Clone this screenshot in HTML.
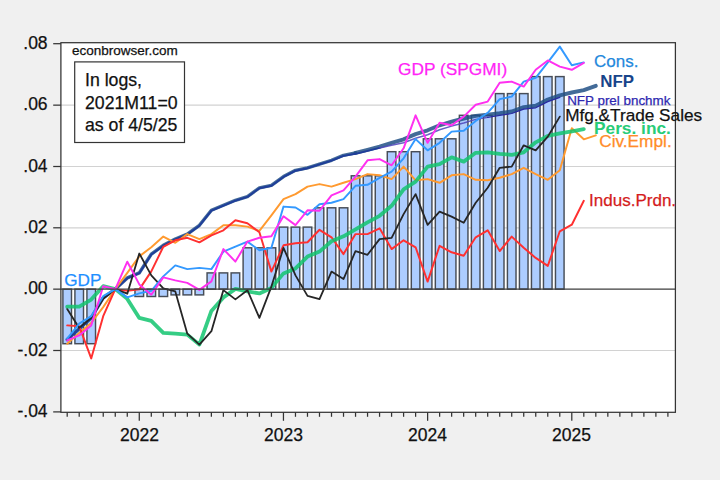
<!DOCTYPE html>
<html lang="en"><head><meta charset="utf-8"><title>Business cycle indicators</title>
<style>
html,body{margin:0;padding:0;}
body{width:720px;height:480px;background:#f0f0f0;position:relative;overflow:hidden;font-family:"Liberation Sans",sans-serif;color:#111;}
.t{position:absolute;white-space:nowrap;line-height:1;-webkit-text-stroke:0.25px currentColor;}
</style></head>
<body>
<svg width="720" height="480" viewBox="0 0 720 480" style="position:absolute;left:0;top:0">
<rect x="60.9" y="42.7" width="614.5" height="369.6" fill="#ffffff"/>
<line x1="60.9" x2="675.4" y1="105.15" y2="105.15" stroke="#d2d2d2" stroke-width="1.15"/>
<line x1="60.9" x2="675.4" y1="166.5" y2="166.5" stroke="#d2d2d2" stroke-width="1.15"/>
<line x1="60.9" x2="675.4" y1="227.8" y2="227.8" stroke="#d2d2d2" stroke-width="1.15"/>
<line x1="60.9" x2="675.4" y1="350.5" y2="350.5" stroke="#d2d2d2" stroke-width="1.15"/>
<rect x="62.90" y="289.1" width="8.6" height="54.6" fill="#adcdff" stroke="#474d57" stroke-width="1.45"/>
<rect x="74.91" y="289.1" width="8.6" height="54.6" fill="#adcdff" stroke="#474d57" stroke-width="1.45"/>
<rect x="86.93" y="289.1" width="8.6" height="54.6" fill="#adcdff" stroke="#474d57" stroke-width="1.45"/>
<rect x="134.98" y="289.1" width="8.6" height="7.4" fill="#adcdff" stroke="#474d57" stroke-width="1.45"/>
<rect x="147.00" y="289.1" width="8.6" height="7.4" fill="#adcdff" stroke="#474d57" stroke-width="1.45"/>
<rect x="159.01" y="289.1" width="8.6" height="7.4" fill="#adcdff" stroke="#474d57" stroke-width="1.45"/>
<rect x="171.03" y="289.1" width="8.6" height="5.8" fill="#adcdff" stroke="#474d57" stroke-width="1.45"/>
<rect x="183.04" y="289.1" width="8.6" height="5.8" fill="#adcdff" stroke="#474d57" stroke-width="1.45"/>
<rect x="195.05" y="289.1" width="8.6" height="5.8" fill="#adcdff" stroke="#474d57" stroke-width="1.45"/>
<rect x="207.07" y="272.9" width="8.6" height="16.2" fill="#adcdff" stroke="#474d57" stroke-width="1.45"/>
<rect x="219.08" y="272.9" width="8.6" height="16.2" fill="#adcdff" stroke="#474d57" stroke-width="1.45"/>
<rect x="231.10" y="272.9" width="8.6" height="16.2" fill="#adcdff" stroke="#474d57" stroke-width="1.45"/>
<rect x="243.11" y="247.8" width="8.6" height="41.3" fill="#adcdff" stroke="#474d57" stroke-width="1.45"/>
<rect x="255.12" y="247.8" width="8.6" height="41.3" fill="#adcdff" stroke="#474d57" stroke-width="1.45"/>
<rect x="267.14" y="247.8" width="8.6" height="41.3" fill="#adcdff" stroke="#474d57" stroke-width="1.45"/>
<rect x="279.15" y="227.1" width="8.6" height="62.0" fill="#adcdff" stroke="#474d57" stroke-width="1.45"/>
<rect x="291.17" y="227.1" width="8.6" height="62.0" fill="#adcdff" stroke="#474d57" stroke-width="1.45"/>
<rect x="303.18" y="227.1" width="8.6" height="62.0" fill="#adcdff" stroke="#474d57" stroke-width="1.45"/>
<rect x="315.19" y="207.8" width="8.6" height="81.3" fill="#adcdff" stroke="#474d57" stroke-width="1.45"/>
<rect x="327.21" y="207.8" width="8.6" height="81.3" fill="#adcdff" stroke="#474d57" stroke-width="1.45"/>
<rect x="339.22" y="207.8" width="8.6" height="81.3" fill="#adcdff" stroke="#474d57" stroke-width="1.45"/>
<rect x="351.24" y="175.8" width="8.6" height="113.3" fill="#adcdff" stroke="#474d57" stroke-width="1.45"/>
<rect x="363.25" y="175.8" width="8.6" height="113.3" fill="#adcdff" stroke="#474d57" stroke-width="1.45"/>
<rect x="375.26" y="175.8" width="8.6" height="113.3" fill="#adcdff" stroke="#474d57" stroke-width="1.45"/>
<rect x="387.28" y="151.7" width="8.6" height="137.5" fill="#adcdff" stroke="#474d57" stroke-width="1.45"/>
<rect x="399.29" y="151.7" width="8.6" height="137.5" fill="#adcdff" stroke="#474d57" stroke-width="1.45"/>
<rect x="411.31" y="151.7" width="8.6" height="137.5" fill="#adcdff" stroke="#474d57" stroke-width="1.45"/>
<rect x="423.32" y="138.8" width="8.6" height="150.3" fill="#adcdff" stroke="#474d57" stroke-width="1.45"/>
<rect x="435.33" y="138.8" width="8.6" height="150.3" fill="#adcdff" stroke="#474d57" stroke-width="1.45"/>
<rect x="447.35" y="138.8" width="8.6" height="150.3" fill="#adcdff" stroke="#474d57" stroke-width="1.45"/>
<rect x="459.36" y="115.3" width="8.6" height="173.8" fill="#adcdff" stroke="#474d57" stroke-width="1.45"/>
<rect x="471.38" y="115.3" width="8.6" height="173.8" fill="#adcdff" stroke="#474d57" stroke-width="1.45"/>
<rect x="483.39" y="115.3" width="8.6" height="173.8" fill="#adcdff" stroke="#474d57" stroke-width="1.45"/>
<rect x="495.40" y="93.6" width="8.6" height="195.5" fill="#adcdff" stroke="#474d57" stroke-width="1.45"/>
<rect x="507.42" y="93.6" width="8.6" height="195.5" fill="#adcdff" stroke="#474d57" stroke-width="1.45"/>
<rect x="519.43" y="93.6" width="8.6" height="195.5" fill="#adcdff" stroke="#474d57" stroke-width="1.45"/>
<rect x="531.45" y="76.6" width="8.6" height="212.5" fill="#adcdff" stroke="#474d57" stroke-width="1.45"/>
<rect x="543.46" y="76.6" width="8.6" height="212.5" fill="#adcdff" stroke="#474d57" stroke-width="1.45"/>
<rect x="555.47" y="76.6" width="8.6" height="212.5" fill="#adcdff" stroke="#474d57" stroke-width="1.45"/>
<polyline points="67.2,339.6 79.2,328.7 91.2,317.9 103.2,297.9 115.3,289.1 127.3,277.9 139.3,272.9 151.3,254.1 163.3,245.3 175.3,239.1 187.3,234.1 199.4,225.3 211.4,210.3 223.4,205.3 235.4,200.3 247.4,196.6 259.4,187.8 271.4,185.3 283.5,176.6 295.5,170.3 307.5,167.8 319.5,164.1 331.5,160.3 343.5,155.3 355.5,152.8" fill="none" stroke="#1f4f84" stroke-width="3.4" stroke-opacity="0.84" stroke-linejoin="round" stroke-linecap="round"/>
<polyline points="355.5,152.8 367.5,149.8 379.6,146.6 391.6,142.8 403.6,139.3 415.6,134.1 427.6,130.3 439.6,125.3 451.6,121.6 463.7,118.5 475.7,115.9 487.7,114.6 499.7,113.2 511.7,111.5 523.7,107.1 535.7,105.8 547.8,99.6 559.8,95.3 571.8,92.5 583.8,90.1 595.8,85.8" fill="none" stroke="#1f4f84" stroke-width="3.9" stroke-opacity="0.84" stroke-linejoin="round" stroke-linecap="round"/>
<polyline points="67.2,339.9 79.2,329.0 91.2,318.2 103.2,298.2 115.3,289.4 127.3,278.2 139.3,273.2 151.3,254.4 163.3,245.7 175.3,239.4 187.3,234.4 199.4,225.7 211.4,210.7 223.4,205.7 235.4,200.7 247.4,196.9 259.4,188.2 271.4,185.7 283.5,176.9 295.5,170.7 307.5,168.2 319.5,164.4 331.5,160.7 343.5,155.9 355.5,153.8 367.5,150.9 379.6,147.9" fill="none" stroke="#1f3d9a" stroke-width="1.9" stroke-linejoin="round" stroke-linecap="round"/>
<polyline points="379.6,147.9 391.6,145.2 403.6,142.8 415.6,138.2 427.6,134.8 439.6,129.8 451.6,126.1 463.7,123.0 475.7,119.4 487.7,117.3" fill="none" stroke="#4c44ba" stroke-width="1.5" stroke-opacity="0.85" stroke-linejoin="round" stroke-linecap="round"/>
<polyline points="487.7,117.3 499.7,115.4 511.7,113.5 523.7,109.1 535.7,107.8 547.8,101.6 559.8,97.3" fill="none" stroke="#2a2aa2" stroke-width="1.25" stroke-linejoin="round" stroke-linecap="round"/>
<polyline points="67.2,343.7 79.2,332.9 91.2,322.9 103.2,307.1 115.3,289.1 127.3,272.9 139.3,256.4 151.3,247.3 163.3,236.6 175.3,242.8 187.3,234.1 199.4,239.1 211.4,234.1 223.4,225.3 235.4,225.3 247.4,226.6 259.4,230.8 271.4,215.3 283.5,199.1 295.5,194.1 307.5,186.6 319.5,184.1 331.5,186.6 343.5,182.8 355.5,179.1 367.5,174.1 379.6,175.3 391.6,179.1 403.6,166.6 415.6,180.3 427.6,179.1 439.6,182.8 451.6,175.3 463.7,174.1 475.7,179.8 487.7,180.3 499.7,177.8 511.7,174.1 523.7,167.8 535.7,174.1 547.8,179.8 559.8,170.3 571.8,128.3 583.8,139.3 595.8,135.3" fill="none" stroke="#ff9a30" stroke-width="1.95" stroke-linejoin="round" stroke-linecap="round"/>
<polyline points="67.2,325.4 79.2,326.2 91.2,358.4 103.2,316.2 115.3,289.1 127.3,290.9 139.3,289.4 151.3,271.4 163.3,246.8 175.3,240.3 187.3,237.8 199.4,242.3 211.4,235.3 223.4,230.3 235.4,220.3 247.4,223.3 259.4,232.3 271.4,271.6 283.5,245.3 295.5,243.3 307.5,242.3 319.5,229.8 331.5,237.3 343.5,254.1 355.5,234.1 367.5,234.1 379.6,228.3 391.6,249.1 403.6,240.3 415.6,247.3 427.6,281.6 439.6,245.8 451.6,252.3 463.7,255.8 475.7,237.3 487.7,230.3 499.7,251.1 511.7,236.6 523.7,247.8 535.7,257.9 547.8,265.9 559.8,231.3 571.8,224.7 583.8,200.8" fill="none" stroke="#ff3030" stroke-width="1.95" stroke-linejoin="round" stroke-linecap="round"/>
<polyline points="67.2,306.7 79.2,306.7 91.2,299.6 103.2,286.2 115.3,289.1 127.3,298.9 139.3,317.9 151.3,320.9 163.3,332.9 175.3,333.7 187.3,334.6 199.4,344.6 211.4,310.9 223.4,297.4 235.4,288.9 247.4,291.4 259.4,293.4 271.4,287.9 283.5,273.4 295.5,268.4 307.5,256.6 319.5,251.6 331.5,241.3 343.5,236.3 355.5,229.3 367.5,222.3 379.6,215.8 391.6,205.8 403.6,189.3 415.6,181.6 427.6,166.6 439.6,164.1 451.6,157.3 463.7,161.6 475.7,152.8 487.7,152.3 499.7,153.8 511.7,154.8 523.7,152.3 535.7,142.3 547.8,135.8 559.8,133.3 571.8,131.3 583.8,129.1" fill="none" stroke="#12c46e" stroke-width="3.8" stroke-opacity="0.85" stroke-linejoin="round" stroke-linecap="round"/>
<polyline points="67.2,309.1 79.2,327.9 91.2,317.9 103.2,298.7 115.3,289.1 127.3,293.7 139.3,253.5 151.3,275.4 163.3,288.4 175.3,291.4 187.3,333.7 199.4,344.6 211.4,331.2 223.4,290.1 235.4,299.4 247.4,290.2 259.4,317.9 271.4,286.6 283.5,247.8 295.5,275.4 307.5,295.9 319.5,299.1 331.5,271.6 343.5,279.1 355.5,251.1 367.5,254.8 379.6,239.1 391.6,237.8 403.6,214.1 415.6,194.1 427.6,224.8 439.6,211.6 451.6,216.6 463.7,222.8 475.7,202.8 487.7,187.8 499.7,167.8 511.7,166.6 523.7,145.3 535.7,150.3 547.8,136.6 559.8,116.6" fill="none" stroke="#262626" stroke-width="1.8" stroke-linejoin="round" stroke-linecap="round"/>
<polyline points="67.2,338.7 79.2,323.7 91.2,316.2 103.2,296.2 115.3,289.1 127.3,297.4 139.3,293.4 151.3,290.8 163.3,276.4 175.3,265.4 187.3,269.1 199.4,267.9 211.4,269.1 223.4,251.6 235.4,246.6 247.4,241.6 259.4,250.3 271.4,247.8 283.5,206.6 295.5,207.5 307.5,214.8 319.5,204.3 331.5,202.8 343.5,199.1 355.5,185.8 367.5,184.8 379.6,177.8 391.6,171.6 403.6,158.3 415.6,139.1 427.6,150.3 439.6,142.8 451.6,131.6 463.7,130.8 475.7,120.9 487.7,112.8 499.7,99.1 511.7,96.6 523.7,81.6 535.7,77.8 547.8,62.4 559.8,46.6 571.8,65.3 583.8,62.4" fill="none" stroke="#3399ff" stroke-width="1.95" stroke-linejoin="round" stroke-linecap="round"/>
<polyline points="67.2,340.4 79.2,335.4 91.2,325.4 103.2,286.2 115.3,289.1 127.3,261.7 139.3,284.4 151.3,294.7 163.3,277.4 175.3,280.4 187.3,282.9 199.4,289.9 211.4,281.4 223.4,249.1 235.4,261.6 247.4,241.6 259.4,237.8 271.4,236.3 283.5,216.3 295.5,225.1 307.5,210.3 319.5,210.7 331.5,195.3 343.5,190.3 355.5,176.6 367.5,160.3 379.6,159.1 391.6,165.3 403.6,148.3 415.6,115.3 427.6,142.8 439.6,122.8 451.6,125.3 463.7,116.6 475.7,104.8 487.7,101.6 499.7,82.8 511.7,81.6 523.7,86.6 535.7,69.8 547.8,60.4 559.8,66.6 571.8,69.8 583.8,62.9" fill="none" stroke="#ff30f0" stroke-width="1.95" stroke-linejoin="round" stroke-linecap="round"/>
<line x1="60.9" x2="675.4" y1="289.1" y2="289.1" stroke="#3c3c3c" stroke-width="1.15"/>
<rect x="60.9" y="42.7" width="614.5" height="369.6" fill="none" stroke="#343434" stroke-width="1.25"/>
<line x1="53.2" x2="60.9" y1="43.7" y2="43.7" stroke="#343434" stroke-width="1.25"/>
<line x1="53.2" x2="60.9" y1="105.15" y2="105.15" stroke="#343434" stroke-width="1.25"/>
<line x1="53.2" x2="60.9" y1="166.5" y2="166.5" stroke="#343434" stroke-width="1.25"/>
<line x1="53.2" x2="60.9" y1="227.8" y2="227.8" stroke="#343434" stroke-width="1.25"/>
<line x1="53.2" x2="60.9" y1="289.15" y2="289.15" stroke="#343434" stroke-width="1.25"/>
<line x1="53.2" x2="60.9" y1="350.5" y2="350.5" stroke="#343434" stroke-width="1.25"/>
<line x1="53.2" x2="60.9" y1="411.9" y2="411.9" stroke="#343434" stroke-width="1.25"/>
<line x1="67.2" x2="67.2" y1="412.3" y2="416.8" stroke="#343434" stroke-width="1.25"/>
<line x1="79.21" x2="79.21" y1="412.3" y2="416.8" stroke="#343434" stroke-width="1.25"/>
<line x1="91.23" x2="91.23" y1="412.3" y2="416.8" stroke="#343434" stroke-width="1.25"/>
<line x1="103.24" x2="103.24" y1="412.3" y2="416.8" stroke="#343434" stroke-width="1.25"/>
<line x1="115.26" x2="115.26" y1="412.3" y2="416.8" stroke="#343434" stroke-width="1.25"/>
<line x1="127.27" x2="127.27" y1="412.3" y2="416.8" stroke="#343434" stroke-width="1.25"/>
<line x1="139.28" x2="139.28" y1="412.3" y2="420.8" stroke="#343434" stroke-width="1.25"/>
<line x1="151.3" x2="151.3" y1="412.3" y2="416.8" stroke="#343434" stroke-width="1.25"/>
<line x1="163.31" x2="163.31" y1="412.3" y2="416.8" stroke="#343434" stroke-width="1.25"/>
<line x1="175.33" x2="175.33" y1="412.3" y2="416.8" stroke="#343434" stroke-width="1.25"/>
<line x1="187.34" x2="187.34" y1="412.3" y2="416.8" stroke="#343434" stroke-width="1.25"/>
<line x1="199.35" x2="199.35" y1="412.3" y2="416.8" stroke="#343434" stroke-width="1.25"/>
<line x1="211.37" x2="211.37" y1="412.3" y2="416.8" stroke="#343434" stroke-width="1.25"/>
<line x1="223.38" x2="223.38" y1="412.3" y2="416.8" stroke="#343434" stroke-width="1.25"/>
<line x1="235.4" x2="235.4" y1="412.3" y2="416.8" stroke="#343434" stroke-width="1.25"/>
<line x1="247.41" x2="247.41" y1="412.3" y2="416.8" stroke="#343434" stroke-width="1.25"/>
<line x1="259.42" x2="259.42" y1="412.3" y2="416.8" stroke="#343434" stroke-width="1.25"/>
<line x1="271.44" x2="271.44" y1="412.3" y2="416.8" stroke="#343434" stroke-width="1.25"/>
<line x1="283.45" x2="283.45" y1="412.3" y2="420.8" stroke="#343434" stroke-width="1.25"/>
<line x1="295.47" x2="295.47" y1="412.3" y2="416.8" stroke="#343434" stroke-width="1.25"/>
<line x1="307.48" x2="307.48" y1="412.3" y2="416.8" stroke="#343434" stroke-width="1.25"/>
<line x1="319.49" x2="319.49" y1="412.3" y2="416.8" stroke="#343434" stroke-width="1.25"/>
<line x1="331.51" x2="331.51" y1="412.3" y2="416.8" stroke="#343434" stroke-width="1.25"/>
<line x1="343.52" x2="343.52" y1="412.3" y2="416.8" stroke="#343434" stroke-width="1.25"/>
<line x1="355.54" x2="355.54" y1="412.3" y2="416.8" stroke="#343434" stroke-width="1.25"/>
<line x1="367.55" x2="367.55" y1="412.3" y2="416.8" stroke="#343434" stroke-width="1.25"/>
<line x1="379.56" x2="379.56" y1="412.3" y2="416.8" stroke="#343434" stroke-width="1.25"/>
<line x1="391.58" x2="391.58" y1="412.3" y2="416.8" stroke="#343434" stroke-width="1.25"/>
<line x1="403.59" x2="403.59" y1="412.3" y2="416.8" stroke="#343434" stroke-width="1.25"/>
<line x1="415.61" x2="415.61" y1="412.3" y2="416.8" stroke="#343434" stroke-width="1.25"/>
<line x1="427.62" x2="427.62" y1="412.3" y2="420.8" stroke="#343434" stroke-width="1.25"/>
<line x1="439.63" x2="439.63" y1="412.3" y2="416.8" stroke="#343434" stroke-width="1.25"/>
<line x1="451.65" x2="451.65" y1="412.3" y2="416.8" stroke="#343434" stroke-width="1.25"/>
<line x1="463.66" x2="463.66" y1="412.3" y2="416.8" stroke="#343434" stroke-width="1.25"/>
<line x1="475.68" x2="475.68" y1="412.3" y2="416.8" stroke="#343434" stroke-width="1.25"/>
<line x1="487.69" x2="487.69" y1="412.3" y2="416.8" stroke="#343434" stroke-width="1.25"/>
<line x1="499.7" x2="499.7" y1="412.3" y2="416.8" stroke="#343434" stroke-width="1.25"/>
<line x1="511.72" x2="511.72" y1="412.3" y2="416.8" stroke="#343434" stroke-width="1.25"/>
<line x1="523.73" x2="523.73" y1="412.3" y2="416.8" stroke="#343434" stroke-width="1.25"/>
<line x1="535.75" x2="535.75" y1="412.3" y2="416.8" stroke="#343434" stroke-width="1.25"/>
<line x1="547.76" x2="547.76" y1="412.3" y2="416.8" stroke="#343434" stroke-width="1.25"/>
<line x1="559.77" x2="559.77" y1="412.3" y2="416.8" stroke="#343434" stroke-width="1.25"/>
<line x1="571.79" x2="571.79" y1="412.3" y2="420.8" stroke="#343434" stroke-width="1.25"/>
<line x1="583.8" x2="583.8" y1="412.3" y2="416.8" stroke="#343434" stroke-width="1.25"/>
<line x1="595.82" x2="595.82" y1="412.3" y2="416.8" stroke="#343434" stroke-width="1.25"/>
<line x1="607.83" x2="607.83" y1="412.3" y2="416.8" stroke="#343434" stroke-width="1.25"/>
<line x1="619.84" x2="619.84" y1="412.3" y2="416.8" stroke="#343434" stroke-width="1.25"/>
<line x1="631.86" x2="631.86" y1="412.3" y2="416.8" stroke="#343434" stroke-width="1.25"/>
<line x1="643.87" x2="643.87" y1="412.3" y2="416.8" stroke="#343434" stroke-width="1.25"/>
<line x1="655.89" x2="655.89" y1="412.3" y2="416.8" stroke="#343434" stroke-width="1.25"/>
<line x1="667.9" x2="667.9" y1="412.3" y2="416.8" stroke="#343434" stroke-width="1.25"/>
<rect x="74.7" y="61.9" width="109.8" height="80.6" fill="#ffffff" stroke="#343434" stroke-width="1.2"/>
</svg>
<div class="t" style="left:0.00px;top:34.99px;font-size:17.5px;color:#111;width:47.6px;text-align:right;">.08</div>
<div class="t" style="left:0.00px;top:96.44px;font-size:17.5px;color:#111;width:47.6px;text-align:right;">.06</div>
<div class="t" style="left:0.00px;top:157.79px;font-size:17.5px;color:#111;width:47.6px;text-align:right;">.04</div>
<div class="t" style="left:0.00px;top:219.09px;font-size:17.5px;color:#111;width:47.6px;text-align:right;">.02</div>
<div class="t" style="left:0.00px;top:280.44px;font-size:17.5px;color:#111;width:47.6px;text-align:right;">.00</div>
<div class="t" style="left:0.00px;top:341.79px;font-size:17.5px;color:#111;width:47.6px;text-align:right;">-.02</div>
<div class="t" style="left:0.00px;top:403.19px;font-size:17.5px;color:#111;width:47.6px;text-align:right;">-.04</div>
<div class="t" style="left:109.50px;top:426.69px;font-size:17.5px;color:#111;width:60px;text-align:center;">2022</div>
<div class="t" style="left:253.50px;top:426.69px;font-size:17.5px;color:#111;width:60px;text-align:center;">2023</div>
<div class="t" style="left:397.50px;top:426.69px;font-size:17.5px;color:#111;width:60px;text-align:center;">2024</div>
<div class="t" style="left:541.50px;top:426.69px;font-size:17.5px;color:#111;width:60px;text-align:center;">2025</div>
<div class="t" style="left:72.00px;top:44.02px;font-size:13.5px;color:#111;">econbrowser.com</div>
<div class="t" style="left:85.00px;top:72.02px;font-size:17.7px;color:#111;">In logs,</div>
<div class="t" style="left:85.00px;top:94.72px;font-size:17.7px;color:#111;">2021M11=0</div>
<div class="t" style="left:85.00px;top:116.52px;font-size:17.7px;color:#111;">as of 4/5/25</div>
<div class="t" style="left:64.20px;top:271.74px;font-size:17.2px;color:#1e8fff;">GDP</div>
<div class="t" style="left:398.00px;top:61.26px;font-size:17.3px;color:#ff24f6;">GDP (SPGMI)</div>
<div class="t" style="left:594.00px;top:52.86px;font-size:17.0px;color:#1f88dc;">Cons.</div>
<div class="t" style="left:600.20px;top:73.59px;font-size:16.9px;color:#17448a;font-weight:bold;-webkit-text-stroke:0;">NFP</div>
<div class="t" style="left:567.20px;top:94.41px;font-size:13.4px;color:#2e28b0;">NFP prel bnchmk</div>
<div class="t" style="left:565.20px;top:107.09px;font-size:17.2px;color:#111;">Mfg.&amp;Trade Sales</div>
<div class="t" style="left:594.00px;top:119.96px;font-size:17.3px;color:#28cc78;font-weight:bold;-webkit-text-stroke:0;">Pers. inc.</div>
<div class="t" style="left:599.20px;top:132.50px;font-size:17.25px;color:#ff8c28;">Civ.Empl.</div>
<div class="t" style="left:589.00px;top:191.67px;font-size:17.05px;color:#d41c1c;">Indus.Prdn.</div>
</body></html>
